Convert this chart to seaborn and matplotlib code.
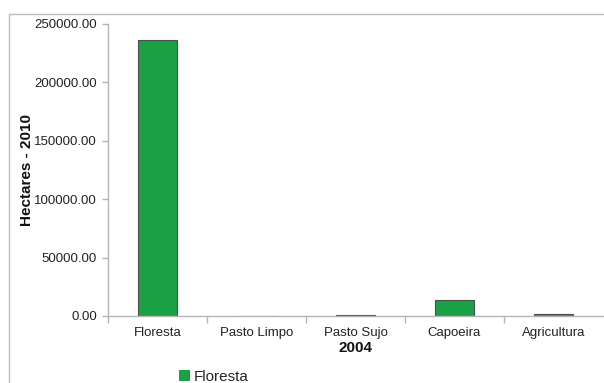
import matplotlib
matplotlib.use("Agg")
import matplotlib.pyplot as plt
from matplotlib.lines import Line2D
from matplotlib.ticker import FixedLocator, FormatStrFormatter
import seaborn as sns
import pandas as pd

categories = ["Floresta", "Pasto Limpo", "Pasto Sujo", "Capoeira", "Agricultura"]
values = [236000, 200, 800, 14000, 1600]
series_name = "Floresta"
y_ticks = [0, 50000, 100000, 150000, 200000, 250000]

sns.set_theme(style="white")
plt.rcParams['font.family'] = ['Liberation Sans', 'DejaVu Sans']

W, H = 604, 383
fig = plt.figure(figsize=(W / 100, H / 100), dpi=100, facecolor='white')
fig.lines.append(Line2D([8.5 / W, 1.1], [1 - 13.5 / H, 1 - 13.5 / H], transform=fig.transFigure,
                        color='#bdbdbd', lw=1.0, zorder=-1))
fig.lines.append(Line2D([8.5 / W, 8.5 / W], [-0.1, 1 - 13.5 / H], transform=fig.transFigure,
                        color='#bdbdbd', lw=1.0, zorder=-1))

ax = fig.add_axes([108 / W, 1 - 316 / H, (603 - 108) / W, (316 - 24) / H])
ax.patch.set_visible(False)

df = pd.DataFrame({"cat": categories, "val": values})
sns.barplot(data=df, x="cat", y="val", color="#1ba145", width=0.4,
            edgecolor="#4d4d4d", linewidth=0.8, saturation=1, label=series_name, ax=ax)

ax.set_xlim(-0.5, 4.5)
ax.set_ylim(0, 250000)
ax.set_yticks(y_ticks)
ax.yaxis.set_major_formatter(FormatStrFormatter('%.2f'))

ax.spines["top"].set_visible(False)
ax.spines["right"].set_visible(False)
for s in ["left", "bottom"]:
    ax.spines[s].set_color('#b5b5b5')
    ax.spines[s].set_linewidth(1.0)

ax.tick_params(axis='y', which='major', direction='out', length=4, color='#b5b5b5',
               width=1, labelsize=9.5, labelcolor='#222222', pad=4, left=True, right=False)
ax.tick_params(axis='x', which='major', length=0, labelsize=9.5, labelcolor='#222222', pad=8)
ax.xaxis.set_minor_locator(FixedLocator([-0.5, 0.5, 1.5, 2.5, 3.5]))
ax.tick_params(axis='x', which='minor', direction='out', length=5, color='#b5b5b5', width=1,
               bottom=True, top=False)

ax.set_xlabel("2004", fontsize=11, fontweight='bold', color='#111111', labelpad=1)
ax.set_ylabel("Hectares - 2010", fontsize=11, fontweight='bold', color='#111111')
ax.yaxis.set_label_coords((34 - 108) / (603 - 108), 0.5)

leg = ax.legend(loc='center', bbox_to_anchor=(214 / W, 1 - 377 / H), bbox_transform=fig.transFigure,
                frameon=False, fontsize=11, handlelength=0.7, handleheight=0.7, handletextpad=0.3)
for h in leg.legend_handles:
    h.set_edgecolor('none')

fig.savefig("out.png", dpi=100, facecolor='white')
